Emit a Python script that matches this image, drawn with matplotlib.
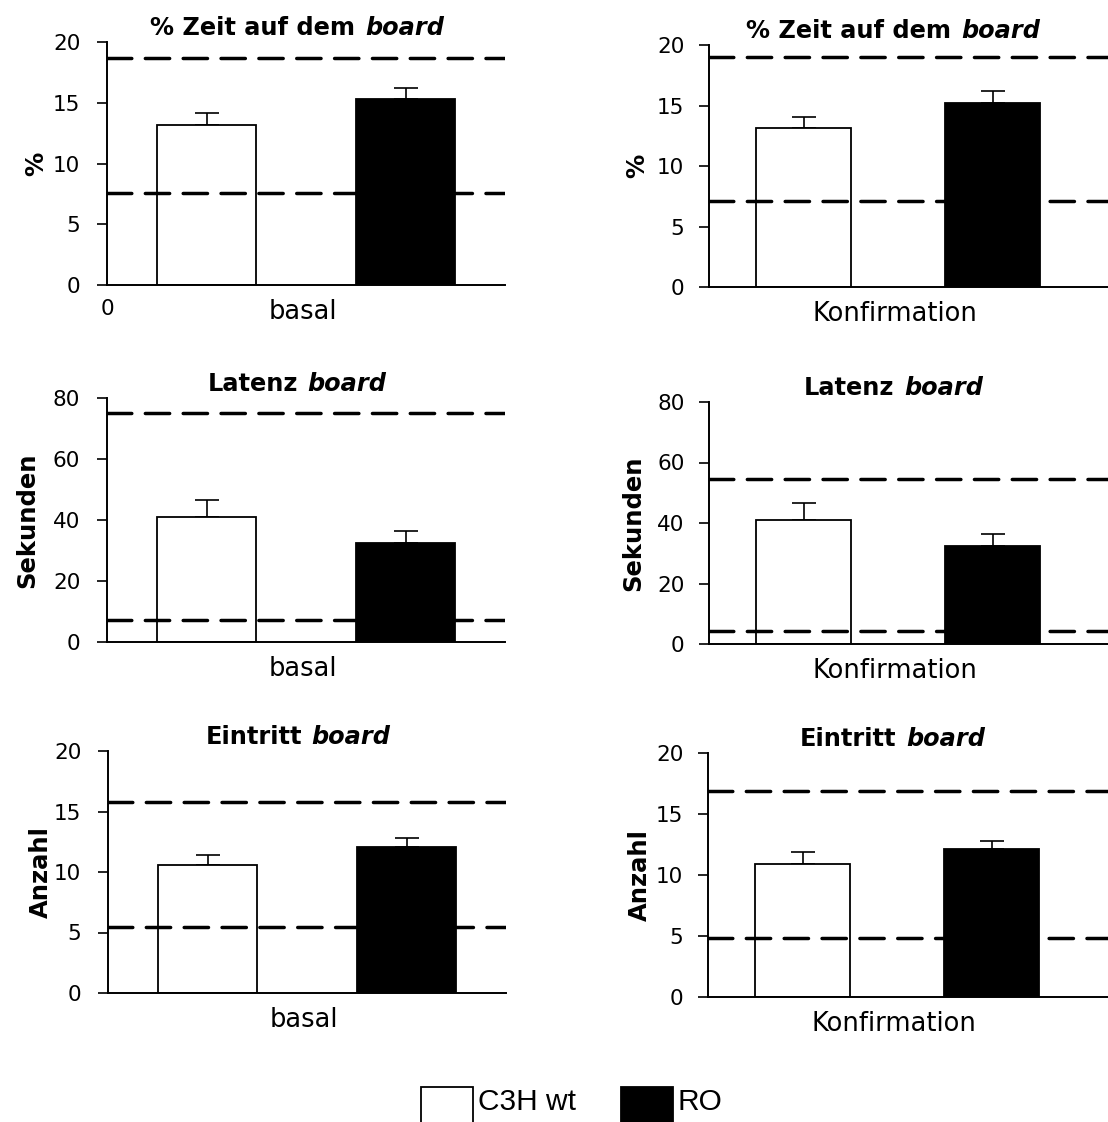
import matplotlib
matplotlib.use('Agg')
import matplotlib.pyplot as plt
from matplotlib import transforms
from matplotlib.offsetbox import TextArea, HPacker, AnchoredOffsetbox
from matplotlib.legend_handler import HandlerPatch
from matplotlib.patches import Rectangle

plt.rcParams['font.family'] = ['DejaVu Sans']

groups = ['C3H wt', 'RO']
conditions = ['basal', 'Konfirmation']
bar_x = [1, 3]

# rows: basal, Konfirmation ; columns: C3H wt, RO
zeit_mean = [[13.2, 15.3], [13.1, 15.2]]
zeit_sem = [[0.95, 0.95], [0.95, 1.0]]
zeit_lines = [[7.6, 18.7], [7.1, 19.0]]

latenz_mean = [[41.0, 32.5], [41.0, 32.4]]
latenz_sem = [[5.6, 3.9], [5.6, 3.9]]
latenz_lines = [[7.2, 75.0], [4.3, 54.5]]

eintritt_mean = [[10.6, 12.1], [10.9, 12.1]]
eintritt_sem = [[0.8, 0.7], [1.0, 0.65]]
eintritt_lines = [[5.45, 15.8], [4.8, 16.9]]

titles = ['% Zeit auf dem', 'Latenz', 'Eintritt']
title_italic = 'board'
ylabels = ['%', 'Sekunden', 'Anzahl']
yticks = [[0, 5, 10, 15, 20], [0, 20, 40, 60, 80], [0, 5, 10, 15, 20]]

W, H = 1108, 1122
fig = plt.figure(figsize=(W / 100, H / 100), dpi=100)

# axes boxes in pixels: left, top, right, bottom
boxes = [[(107, 42, 505, 285), (709, 45, 1130, 287)],
         [(107, 398, 505, 642), (709, 402, 1130, 644)],
         [(108, 751, 506, 993), (708, 753, 1129, 997)]]
xmax = [4.0, 421 / 94.5]
ylabel_x = [[36, 637], [27, 633], [41, 640]]
title_x = [1.91, 1.95]
tick_pad = [12, 10.5]

data = [(zeit_mean, zeit_sem, zeit_lines),
        (latenz_mean, latenz_sem, latenz_lines),
        (eintritt_mean, eintritt_sem, eintritt_lines)]

bars = None
for row, (means, sems, lines) in enumerate(data):
    for col in range(2):
        l, t, r, b = boxes[row][col]
        ax = fig.add_axes([l / W, 1 - b / H, (r - l) / W, (b - t) / H])
        bars = ax.bar(bar_x, means[col], width=1.0, color=['white', 'black'],
                      edgecolor='black', linewidth=1.3, zorder=2)
        ax.errorbar(bar_x, means[col], yerr=[[0, 0], sems[col]], fmt='none',
                    ecolor='black', elinewidth=1.2, capsize=8.3, capthick=1.2,
                    zorder=1.5)
        for v in lines[col]:
            ax.axhline(v, color='black', lw=2.5, linestyle=(0, (7.0, 3.9)),
                       dash_capstyle='round', zorder=3)
        ax.set_xlim(0, xmax[col])
        ax.set_ylim(0, yticks[row][-1])
        ax.set_yticks(yticks[row])
        for s in ['top', 'right']:
            ax.spines[s].set_visible(False)
        for s in ['left', 'bottom']:
            ax.spines[s].set_linewidth(1.4)
        ax.tick_params(axis='y', direction='out', length=7.2, width=1.2,
                       labelsize=15.5, pad=tick_pad[col])
        if row == 0 and col == 0:
            ax.set_xticks([0])
            ax.tick_params(axis='x', length=0, labelsize=15.5, pad=10)
        else:
            ax.set_xticks([])

        ax.set_xlabel(conditions[col], fontsize=18.5)
        ax.xaxis.set_label_coords(1.97 / xmax[col], -34 / (b - t))
        ax.xaxis.label.set_va('baseline')

        ax.set_ylabel(ylabels[row], fontsize=17.5, fontweight='bold')
        ax.yaxis.set_label_coords((ylabel_x[row][col] - l) / (r - l), 0.5)
        ax.yaxis.label.set_va('center')

        ta1 = TextArea(titles[row], textprops=dict(fontsize=17.3, fontweight='bold'))
        ta2 = TextArea(title_italic, textprops=dict(fontsize=17.3, fontweight='bold',
                                                    fontstyle='italic'))
        pack = HPacker(children=[ta1, ta2], align='baseline', pad=0, sep=7)
        trans = transforms.blended_transform_factory(ax.transData, ax.transAxes)
        anch = AnchoredOffsetbox(loc='lower center', child=pack, pad=0, borderpad=0,
                                 frameon=False,
                                 bbox_to_anchor=(title_x[col], 1 + 1.6 / (b - t)),
                                 bbox_transform=trans)
        fig.add_artist(anch)


def tall_box(legend, orig_handle, xdescent, ydescent, width, height, fontsize):
    extra = 15
    return Rectangle((-xdescent, -ydescent - extra), width, height + extra)


fig.legend([bars[0], bars[1]], groups, loc='upper left',
           bbox_to_anchor=(421 / W, 1 - 1087 / H), frameon=False, ncol=2,
           borderpad=0, borderaxespad=0, handlelength=1.74, handleheight=0.96,
           handletextpad=0.17, columnspacing=1.5,
           prop={'family': 'Liberation Sans', 'size': 21.5},
           handler_map={Rectangle: HandlerPatch(patch_func=tall_box)})

fig.savefig('out.png', dpi=100)
